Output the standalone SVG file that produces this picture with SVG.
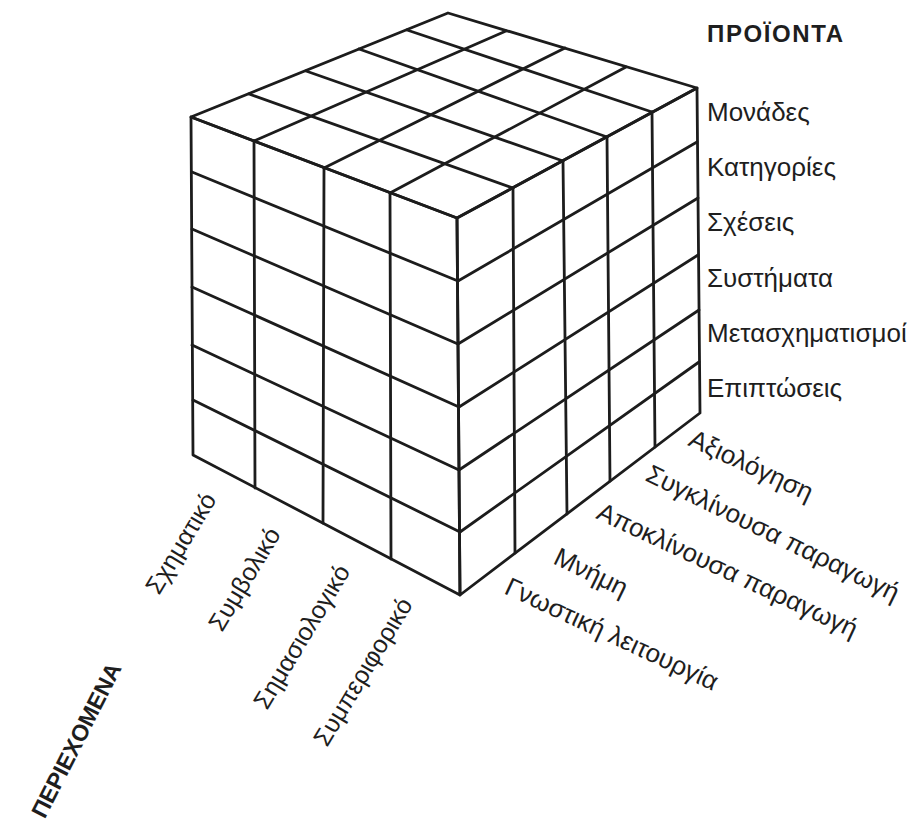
<svg xmlns="http://www.w3.org/2000/svg" width="915" height="835" viewBox="0 0 915 835">
<style>
  .ln { fill: none; stroke: #1c1c1c; stroke-width: 2.8; stroke-linecap: round; stroke-linejoin: round; }
  .lbl { font-family: "Liberation Sans", Arial, sans-serif; fill: #1e1e1e; }
  .ax { font-size: 26px; }
  .axl { font-size: 25px; }
  .ttl { font-weight: bold; }
</style>
<rect x="0" y="0" width="915" height="835" fill="#ffffff"/>
<g id="cube">
  <g id="top-face">
    <path class="ln" d="M457,218 L191,117 L448,13 L697,88 Z"/>
    <path class="ln" d="M513,188 L249,94 M563,161 L306,71 M607,137 L359,49 M652,112 L407,30"/>
    <path class="ln" d="M390,193 L626,67 M324,168 L565,48 M254,141 L506,31"/>
  </g>
  <g id="front-face">
    <path class="ln" d="M191,117 L457,218 L460,595 L193,455 Z"/>
    <path class="ln" d="M192,172 L458,281 M192,229 L458,344 M192,287 L459,407 M192,345 L459,470 M193,400 L460,532"/>
    <path class="ln" d="M254,141 L255,488 M324,168 L323,523 M390,193 L391,559"/>
  </g>
  <g id="right-face">
    <path class="ln" d="M457,218 L697,88 L700,413 L460,595 Z"/>
    <path class="ln" d="M458,281 L697,142 M458,344 L698,198 M459,407 L698,255 M459,470 L699,310 M460,532 L699,362"/>
    <path class="ln" d="M513,188 L515,553 M563,161 L567,514 M607,137 L610,481 M652,112 L655,447"/>
  </g>
</g>
<g id="products">
  <text class="lbl ttl" x="707" y="42" font-size="24" letter-spacing="1.6">ΠΡΟΪΟΝΤΑ</text>
  <text class="lbl ax" x="707" y="121">Μονάδες</text>
  <text class="lbl ax" x="707" y="176">Κατηγορίες</text>
  <text class="lbl ax" x="707" y="231">Σχέσεις</text>
  <text class="lbl ax" x="707" y="287">Συστήματα</text>
  <text class="lbl ax" x="707" y="342">Μετασχηματισμοί</text>
  <text class="lbl ax" x="707" y="397">Επιπτώσεις</text>
</g>
<g id="operations">
  <text class="lbl ax" transform="translate(687,445) rotate(25)">Αξιολόγηση</text>
  <text class="lbl ax" transform="translate(644,480) rotate(26)">Συγκλίνουσα παραγωγή</text>
  <text class="lbl ax" transform="translate(595,518) rotate(25)">Αποκλίνουσα παραγωγή</text>
  <text class="lbl ax" transform="translate(552,563) rotate(26)">Μνήμη</text>
  <text class="lbl ax" transform="translate(503,593) rotate(25)">Γνωστική λειτουργία</text>
</g>
<g id="contents">
  <text class="lbl axl" transform="translate(159,596) rotate(-59)">Σχηματικό</text>
  <text class="lbl axl" transform="translate(222,633) rotate(-59)">Συμβολικό</text>
  <text class="lbl axl" transform="translate(267,711) rotate(-59)">Σημασιολογικό</text>
  <text class="lbl axl" transform="translate(327,748) rotate(-59)">Συμπεριφορικό</text>
  <text class="lbl ttl" font-size="23" text-anchor="end" transform="translate(122,668) rotate(-63)">ΠΕΡΙΕΧΟΜΕΝΑ</text>
</g>
</svg>
